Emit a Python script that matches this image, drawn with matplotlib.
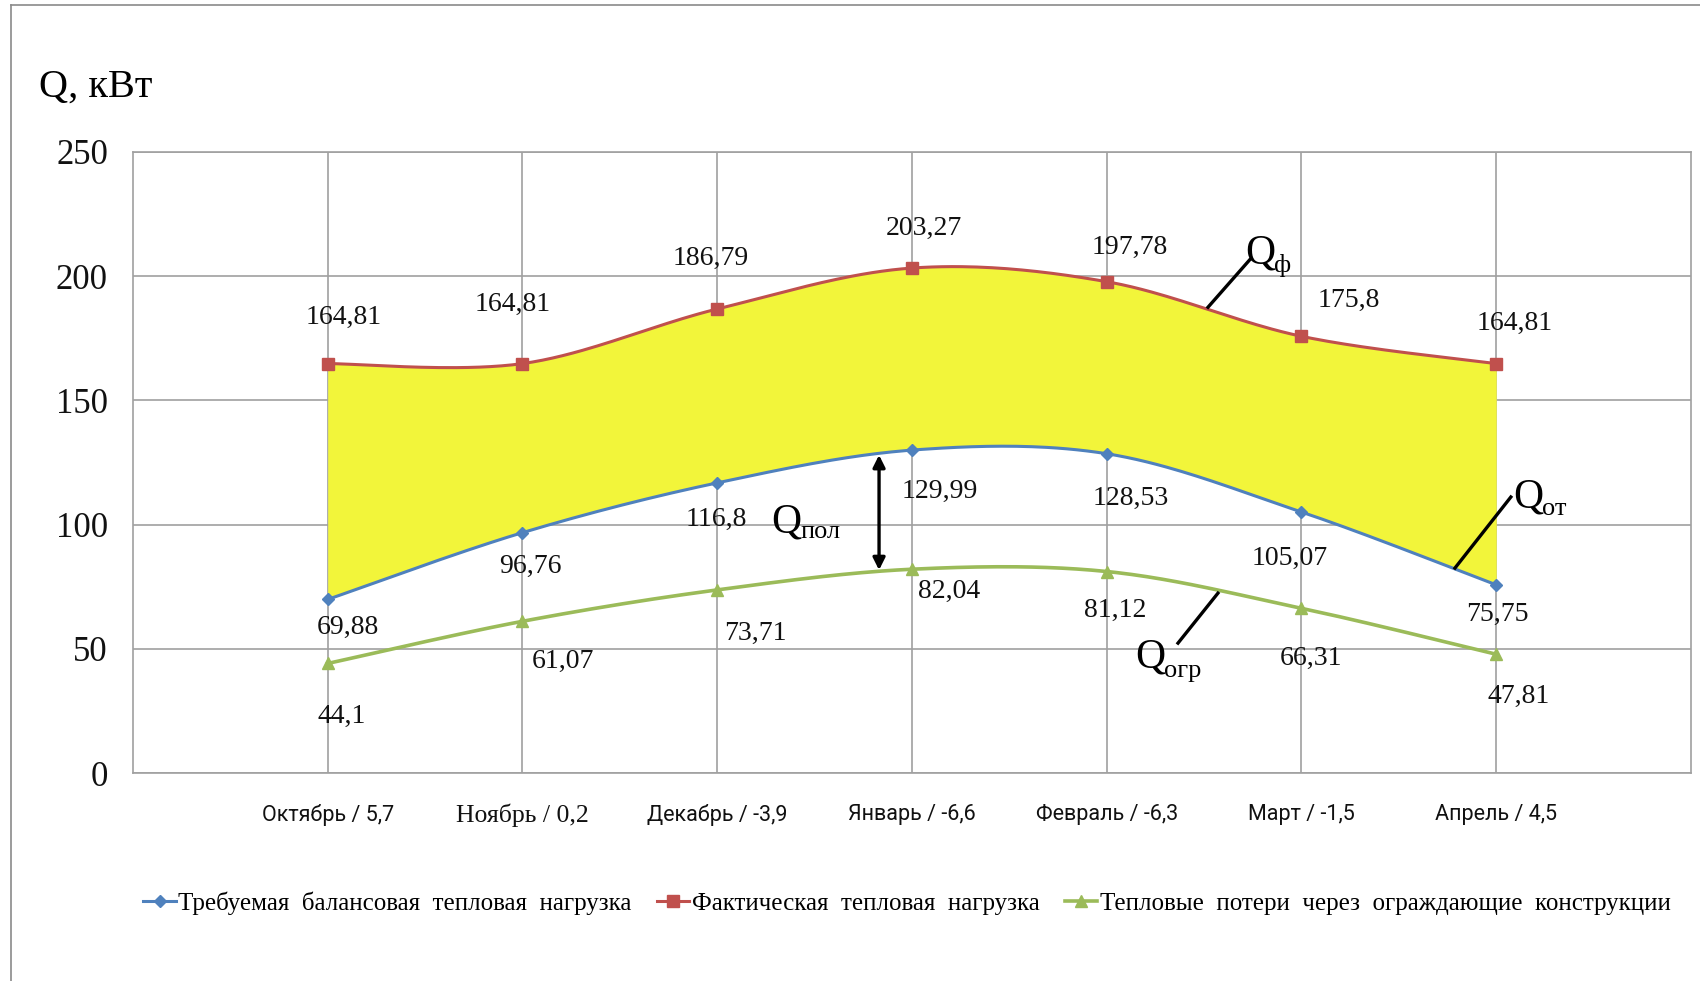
import numpy as np
import matplotlib
matplotlib.use("Agg")
import matplotlib.pyplot as plt
from matplotlib.lines import Line2D

# months with mean outdoor temperature
months = ["Октябрь / 5,7", "Ноябрь / 0,2", "Декабрь / -3,9", "Январь / -6,6",
          "Февраль / -6,3", "Март / -1,5", "Апрель / 4,5"]

q_balance = [69.88, 96.76, 116.8, 129.99, 128.53, 105.07, 75.75]
q_actual = [164.81, 164.81, 186.79, 203.27, 197.78, 175.8, 164.81]
q_losses = [44.1, 61.07, 73.71, 82.04, 81.12, 66.31, 47.81]

name_balance = "Требуемая  балансовая  тепловая  нагрузка"
name_actual = "Фактическая  тепловая  нагрузка"
name_losses = "Тепловые  потери  через  ограждающие  конструкции"

SERIF = ["Liberation Serif", "DejaVu Serif"]
NARROW = ["Liberation Sans Narrow", "Roboto", "DejaVu Sans"]

C_BLUE = "#4f81bd"
C_RED = "#c0504d"
C_GREEN = "#9bbb59"
C_FILL = "#f2f53a"


def smooth(x, y, n=40):
    # excel-like smoothing: bezier segments with catmull-rom control points
    pts = np.column_stack([x, y]).astype(float)
    p = np.vstack([pts[0], pts, pts[-1]])
    t = np.linspace(0, 1, n)[:, None]
    out = []
    for i in range(1, len(p) - 2):
        p0, p1, p2, p3 = p[i - 1], p[i], p[i + 1], p[i + 2]
        c1 = p1 + (p2 - p0) / 6.0
        c2 = p2 - (p3 - p1) / 6.0
        seg = (1 - t)**3 * p1 + 3 * (1 - t)**2 * t * c1 + 3 * (1 - t) * t**2 * c2 + t**3 * p2
        out.append(seg if i == 1 else seg[1:])
    out = np.vstack(out)
    return out[:, 0], out[:, 1]


x = np.arange(len(months))

fig = plt.figure(figsize=(17, 9.81), dpi=100, facecolor="w")
ax = fig.add_axes([0.0782, 0.2120, 0.9165, 0.6331])

sx, s_act = smooth(x, q_actual)
_, s_bal = smooth(x, q_balance)
_, s_los = smooth(x, q_losses)

ax.fill_between(sx, s_bal, s_act, color=C_FILL, lw=0, zorder=1)

ax.plot(sx, s_bal, color=C_BLUE, lw=2.2, zorder=3)
ax.plot(sx, s_act, color=C_RED, lw=2.2, zorder=3)
ax.plot(sx, s_los, color=C_GREEN, lw=2.6, zorder=3)
ax.plot(x, q_balance, ls="none", marker="D", ms=6, color=C_BLUE, zorder=4)
ax.plot(x, q_actual, ls="none", marker="s", ms=8, color=C_RED, zorder=4)
ax.plot(x, q_losses, ls="none", marker="^", ms=9, color=C_GREEN, zorder=4)

# value labels, offsets in pixels from each point
off_actual = [(16, 46), (-10, 59), (-6, 51), (12, 40), (23, 34), (47, 36), (18, 40)]
off_balance = [(20, -28), (8, -34), (-1, -37), (28, -41), (24, -45), (-12, -46), (1, -30)]
off_losses = [(14, -53), (40, -40), (38, -43), (37, -22), (8, -39), (10, -50), (22, -42)]

for vals, offs in [(q_actual, off_actual), (q_balance, off_balance), (q_losses, off_losses)]:
    for i, (v, o) in enumerate(zip(vals, offs)):
        ax.annotate(f"{v:g}".replace(".", ","), xy=(i, v), xytext=o,
                    textcoords="offset pixels", ha="center", va="center",
                    fontsize=20, family=SERIF, color="#111111", zorder=5)


def qlabel(xq, yq, sub, dy=-8):
    ax.text(xq, yq, "Q", fontsize=30, family=SERIF, ha="left", va="baseline", zorder=6)
    ax.annotate(sub, xy=(xq, yq), xytext=(29, dy), textcoords="offset pixels",
                fontsize=19, family=SERIF, ha="left", va="baseline", zorder=6)


qlabel(4.710, 205.2, "ф", dy=-9)
ax.plot([4.741, 4.520], [207.2, 187.5], color="k", lw=2.4, zorder=6)

qlabel(6.086, 107.0, "от")
ax.plot([6.075, 5.788], [111.1, 82.5], color="k", lw=2.4, zorder=6)

qlabel(4.146, 42.3, "огр", dy=-9)
ax.plot([4.366, 4.571], [52.3, 72.4], color="k", lw=2.4, zorder=6)

qlabel(2.277, 97.0, "пол", dy=-6)
ax.annotate("", xy=(2.831, 128.0), xytext=(2.831, 81.7),
            arrowprops=dict(arrowstyle="<|-|>", color="k", lw=2.4,
                            mutation_scale=18, shrinkA=0, shrinkB=0), zorder=6)

ax.set_xlim(-1, 7)
ax.set_ylim(0, 250)
ax.set_yticks(np.arange(0, 251, 50))
ax.set_xticks(x)
ax.set_xticklabels(months)
for i, lab in enumerate(ax.get_xticklabels()):
    if i == 1:
        lab.set_family(SERIF)
        lab.set_fontsize(18.5)
    else:
        lab.set_family(NARROW)
        lab.set_fontsize(15.5)
for lab in ax.get_yticklabels():
    lab.set_family(SERIF)
    lab.set_fontsize(25)

ax.tick_params(axis="both", length=0, colors="#111111")
ax.tick_params(axis="y", pad=18)
ax.tick_params(axis="x", pad=22)
ax.grid(True, color="#a0a0a0", lw=1.2)
ax.set_axisbelow(True)
for sp in ax.spines.values():
    sp.set_color("#a0a0a0")
    sp.set_linewidth(1.2)

fig.text(0.0230, 1 - 97 / 981, "Q, кВт", fontsize=29, family=SERIF, ha="left", va="baseline")

handles = [
    Line2D([], [], color=C_BLUE, lw=2.2, marker="D", ms=6),
    Line2D([], [], color=C_RED, lw=2.2, marker="s", ms=8),
    Line2D([], [], color=C_GREEN, lw=2.6, marker="^", ms=9),
]
fig.legend(handles, [name_balance, name_actual, name_losses], loc="center",
           bbox_to_anchor=(0.5335, 0.0795), ncol=3, frameon=False,
           prop=dict(family=SERIF, size=18), handlelength=1.3, handletextpad=0.1,
           columnspacing=1.0)

# outer frame (left and top edges)
fig.add_artist(Line2D([0.0065, 0.0065], [0, 0.9949], transform=fig.transFigure, color="#8a8a8a", lw=1.2))
fig.add_artist(Line2D([0.0065, 1], [0.9949, 0.9949], transform=fig.transFigure, color="#8a8a8a", lw=1.2))

fig.savefig("out.png", dpi=100)
